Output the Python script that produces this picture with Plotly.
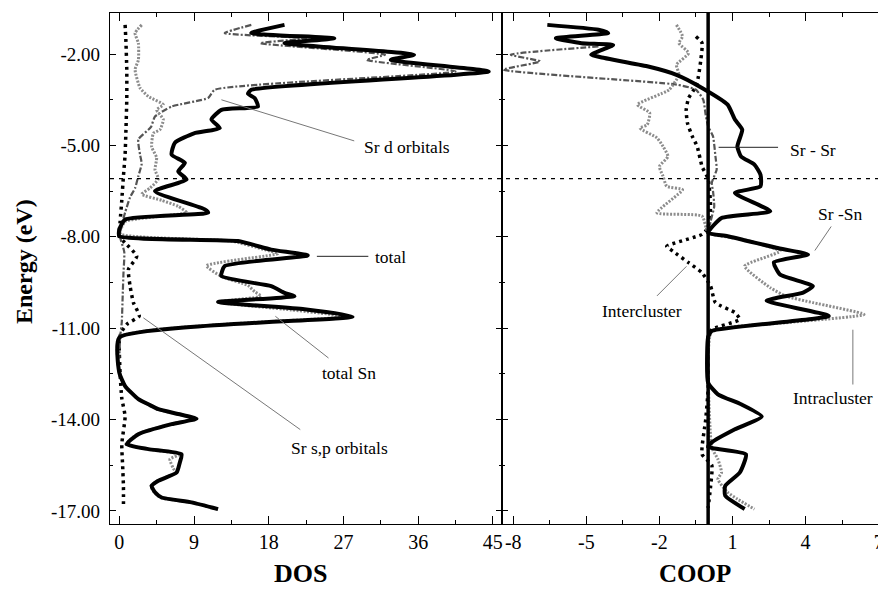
import plotly.graph_objects as go

# ---------------- DOS panel (energy in eV) ----------------
total_E = [-1.04, -1.31, -1.48, -1.64, -2.02, -2.19, -2.57, -3.17, -3.30, -3.44, -3.72, -3.83,
           -4.15, -4.43, -4.60, -4.91, -5.30, -5.57, -5.85, -6.12, -6.50, -7.10, -7.21, -7.43,
           -7.76, -7.98, -8.14, -8.42, -8.61, -8.96, -9.29, -9.62, -9.84, -9.95, -10.14, -10.38,
           -10.62, -11.31, -12.46, -12.90, -13.33, -13.50, -13.66, -13.82, -13.97, -14.15, -14.48,
           -14.81, -14.97, -15.14, -15.40, -15.74, -16.01, -16.18, -16.39, -16.56, -16.72, -16.94]
total_dos = [19.9, 15.9, 25.9, 19.9, 35.5, 32.7, 44.5, 15.9, 15.5, 16.3, 16.7, 12.3,
             11.1, 12.1, 9.0, 6.7, 6.3, 7.9, 7.1, 8.1, 4.3, 10.3, 10.7, 0.7,
             0.0, 0.0, 14.3, 18.3, 22.7, 12.7, 12.3, 18.3, 19.9, 21.1, 11.9, 22.3,
             28.1, 0.0, 0.0, 0.7, 2.3, 3.5, 4.7, 7.1, 9.3, 6.3, 2.3,
             0.9, 3.5, 7.5, 7.3, 6.9, 4.7, 3.9, 4.3, 5.1, 8.7, 11.9]

sn_E = [-1.04, -1.31, -1.64, -2.19, -2.51, -3.11, -3.39, -3.66, -3.83, -4.15, -4.48, -4.60,
        -5.05, -5.40, -5.80, -6.10, -6.40, -6.60, -6.80, -7.00, -7.20, -7.50, -7.90, -8.14,
        -8.42, -8.55, -8.95, -9.30, -9.60, -9.80, -9.95, -10.14, -10.40, -10.62, -11.30, -12.46,
        -12.90, -13.33, -13.50, -13.66, -13.82, -13.97, -14.15, -14.48, -14.81, -14.97, -15.14,
        -15.30, -15.60, -15.74, -16.01, -16.18, -16.39, -16.56, -16.72, -16.94]
sn_dos = [2.7, 1.9, 2.3, 2.3, 1.9, 2.5, 3.5, 5.3, 4.5, 5.3, 4.9, 4.1,
          3.9, 4.5, 4.3, 4.7, 3.7, 2.7, 5.1, 7.1, 8.1, 0.7, 0.1, 13.5,
          17.5, 19.1, 10.5, 12.3, 15.5, 16.3, 17.1, 11.9, 20.7, 27.1, 0.0, 0.0,
          0.7, 2.3, 3.5, 4.6, 7.0, 9.2, 6.2, 2.2, 0.8, 3.4, 7.3,
          6.1, 6.5, 6.8, 4.6, 3.8, 4.2, 5.0, 8.6, 11.8]

srsp_E = [-1.04, -1.6, -2.5, -3.5, -4.5, -5.3, -6.0, -6.8, -7.5, -8.0, -8.2, -8.64, -9.07,
          -9.62, -10.16, -10.6, -10.85, -11.1, -11.35, -12.5, -13.3, -13.9, -14.8, -15.5,
          -16.2, -16.9]
srsp_dos = [0.7, 0.8, 0.9, 0.9, 0.8, 0.7, 0.5, 0.3, 0.1, 0.0, 0.7, 2.1, 1.1,
            1.3, 1.7, 2.4, 1.0, 0.3, 0.0, 0.1, 0.3, 0.7, 0.3, 0.4,
            0.5, 0.5]

srd_E = [-1.04, -1.31, -1.48, -1.64, -2.02, -2.19, -2.57, -3.17, -3.44, -3.72, -4.05, -4.40,
         -4.80, -5.30, -5.60, -6.00, -6.40, -6.70, -7.20, -7.60, -8.00, -8.50, -9.20, -10.00,
         -10.80, -11.30, -12.00]
srd_dos = [15.9, 12.7, 22.5, 17.0, 32.0, 29.8, 40.5, 11.5, 10.7, 6.3, 4.3, 3.8,
           2.3, 2.5, 2.7, 2.3, 1.9, 1.3, 0.7, 0.3, 0.1, 0.6, 0.5, 0.4,
           0.3, 0.1, 0.0]

# ---------------- COOP panel ----------------
srsn_E = [-1.04, -1.20, -1.31, -1.48, -1.64, -1.70, -2.02, -2.13, -2.40, -2.68, -3.11, -3.66,
          -4.15, -4.48, -5.03, -5.36, -5.63, -5.96, -6.34, -6.56, -7.16, -7.38, -7.87, -7.98,
          -8.36, -8.58, -8.84, -9.24, -9.62, -9.83, -10.10, -10.60, -11.09, -11.30, -12.79, -13.17,
          -13.50, -13.90, -14.32, -14.75, -14.90, -15.14, -15.74, -16.18, -16.50, -16.94]
srsn_coop = [-6.6, -4.5, -4.1, -6.25, -5.2, -3.9, -4.8, -4.25, -2.5, -1.3, -0.25, 0.8,
             1.1, 1.4, 1.2, 1.35, 1.9, 2.15, 2.15, 1.1, 2.55, 0.55, 0.0, 0.8,
             2.8, 4.1, 2.7, 2.95, 4.3, 3.9, 2.4, 4.95, 0.15, 0.0, 0.0, 0.4,
             1.35, 2.2, 1.1, 0.15, 0.0, 1.55, 1.3, 0.7, 0.7, 1.5]

intra_E = [-1.04, -1.42, -1.64, -1.97, -2.35, -2.68, -3.17, -3.66, -3.93, -4.32, -4.43, -4.75,
           -5.03, -5.36, -5.69, -6.01, -6.34, -6.45, -7.21, -7.32, -7.86, -8.10, -8.47, -8.96,
           -9.67, -9.95, -10.16, -10.55, -10.82, -11.10, -12.0, -14.92, -15.30, -15.74, -15.96,
           -16.39, -16.61, -16.94]
intra_coop = [-1.3, -1.05, -1.2, -0.8, -1.3, -1.2, -1.6, -2.9, -2.4, -2.5, -2.8, -2.1,
              -1.85, -1.65, -2.0, -1.85, -1.7, -1.05, -2.1, -0.25, 0.0, 1.5, 2.95, 1.5,
              2.55, 3.2, 4.3, 6.4, 3.2, 0.15, 0.0, 0.15, 0.4, 0.55, 0.4,
              0.8, 1.2, 1.9]

inter_E = [-1.42, -1.64, -2.19, -2.74, -3.06, -3.44, -3.83, -4.26, -4.70, -5.03, -5.69, -6.10,
           -7.0, -7.70, -7.92, -8.31, -8.47, -8.85, -9.18, -9.62, -10.16, -10.49, -10.71, -11.04,
           -11.3, -13.0, -14.0, -15.14, -15.5, -16.2, -16.9]
inter_coop = [-0.5, -0.25, -0.3, -0.4, -0.5, -0.8, -0.9, -0.85, -0.65, -0.45, -0.25, 0.0,
              0.1, 0.0, -0.25, -1.7, -1.45, -0.8, -0.25, 0.1, 0.3, 1.1, 1.3, 0.15,
              0.0, 0.0, -0.1, -0.25, 0.15, 0.1, 0.0]

srsr_E = [-1.75, -2.02, -2.24, -2.51, -3.00, -3.17, -3.5, -4.0, -4.37, -4.70, -5.36, -5.79,
          -6.23, -6.5, -7.0, -7.5, -8.0]
srsr_coop = [-4.5, -8.1, -6.9, -8.4, -1.3, -0.5, -0.2, -0.1, 0.0, 0.2, 0.3, 0.35,
             0.15, 0.2, 0.25, 0.1, 0.0]

fermi_E = -6.09

dos_ticks = [0, 9, 18, 27, 36, 45]
dos_ticktext = ["0", "9", "18", "27", "36", "45"]
coop_ticks = [-8, -5, -2, 1, 4, 7]
coop_ticktext = ["-8", "-5", "-2", "1", "4", "7"]
energy_ticks = [-2, -5, -8, -11, -14, -17]
energy_ticktext = ["-2.00", "-5.00", "-8.00", "-11.00", "-14.00", "-17.00"]

SERIF = "Liberation Serif"

fig = go.Figure()


def add(x, y, xa, ya, color, width, dash):
    fig.add_trace(go.Scatter(x=x, y=y, mode="lines", xaxis=xa, yaxis=ya,
                             line=dict(color=color, width=width, dash=dash,
                                       shape="spline", smoothing=0.5),
                             hoverinfo="skip", showlegend=False))


# DOS panel
add(srsp_dos, srsp_E, "x", "y", "black", 3.5, "3px,4px")
add(srd_dos, srd_E, "x", "y", "#555555", 2.2, "6px,2px,2px,2px")
add(sn_dos, sn_E, "x", "y", "#8c8c8c", 3, "2px,1.5px")
add(total_dos, total_E, "x", "y", "black", 4, "solid")

# COOP panel
add(inter_coop, inter_E, "x2", "y2", "black", 3.5, "3px,4px")
add(srsr_coop, srsr_E, "x2", "y2", "#555555", 2.2, "6px,2px,2px,2px")
add(intra_coop, intra_E, "x2", "y2", "#8c8c8c", 3, "2px,1.5px")
add(srsn_coop, srsn_E, "x2", "y2", "black", 4, "solid")

yr = [-17.43, -0.65]
split = (502 - 110) / 776

common_y = dict(range=yr, showline=True, linecolor="black", linewidth=1.2, mirror="ticks",
                ticks="inside", ticklen=6, tickwidth=1.2, tickcolor="black",
                showgrid=False, zeroline=False, automargin=False,
                minor=dict(ticks="inside", ticklen=3, tickcolor="black", tick0=-2, dtick=1.5))

common_x = dict(showline=True, linecolor="black", linewidth=1.2, mirror="ticks",
                ticks="inside", ticklen=8, tickwidth=1.2, tickcolor="black",
                tickfont=dict(family=SERIF, size=20, color="black"), ticklabelstandoff=0,
                showgrid=False, zeroline=False, automargin=False, tickmode="array",
                ticklabeloverflow="allow")

# the page body adds an 8px offset, so the figure is drawn 8px smaller/shifted
fig.update_layout(
    template="none",
    width=878, height=583,
    margin=dict(l=102, r=0, t=5, b=67),
    paper_bgcolor="white", plot_bgcolor="white",
    showlegend=False, hovermode=False,
    font=dict(family=SERIF, color="black"),
    xaxis=dict(domain=[0, split], range=[-1.12, 46.1], tickvals=dos_ticks,
               ticktext=dos_ticktext,
               minor=dict(ticks="inside", ticklen=4, tickcolor="black", tick0=0, dtick=4.5),
               **common_x),
    xaxis2=dict(domain=[split, 1], range=[-8.46, 7.3], tickvals=coop_ticks,
                ticktext=coop_ticktext,
                minor=dict(ticks="inside", ticklen=4, tickcolor="black", tick0=-8, dtick=1.5),
                **common_x),
    yaxis=dict(anchor="x", tickmode="array", tickvals=energy_ticks, ticktext=energy_ticktext,
               tickfont=dict(family=SERIF, size=19, color="black"), ticklabelstandoff=5,
               **common_y),
    yaxis2=dict(anchor="x2", tickmode="array", tickvals=energy_ticks, showticklabels=False,
                **common_y),
)

# Fermi level (dashed) across both panels and zero line in COOP
fig.add_shape(type="line", xref="paper", yref="y", x0=0, x1=1, y0=fermi_E, y1=fermi_E,
              line=dict(color="black", width=1.2, dash="4px,5px"))
fig.add_shape(type="line", xref="x2", yref="paper", x0=0, x1=0, y0=0, y1=1,
              line=dict(color="black", width=3.5))

# labels with pointer lines
labels = [
    ("x", "y", "Sr d orbitals", 29.2, -5.04, (12.3, -3.50, 28.3, -4.85), "#777777"),
    ("x", "y", "total", 30.6, -8.65, (23.8, -8.64, 30.0, -8.64), "#222222"),
    ("x", "y", "total Sn", 24.2, -12.46, (18.8, -10.61, 25.2, -11.98), "#777777"),
    ("x", "y", "Sr s,p orbitals", 20.5, -14.95, (2.9, -10.66, 21.8, -14.33), "#777777"),
    ("x2", "y2", "Sr - Sr", 3.27, -5.14, (0.43, -5.06, 2.87, -5.06), "#222222"),
    ("x2", "y2", "Sr -Sn", 4.42, -7.24, (5.05, -7.66, 4.38, -8.45), "#777777"),
    ("x2", "y2", "Intercluster", -4.44, -10.45, (-0.89, -8.97, -2.1, -9.94), "#777777"),
    ("x2", "y2", "Intracluster", 3.42, -13.29, (5.94, -11.05, 5.94, -12.85), "#777777"),
]
for xr, yrf, text, lx, ly, (x0, y0, x1, y1), col in labels:
    fig.add_annotation(xref=xr, yref=yrf, x=lx, y=ly, text=text, showarrow=False,
                       xanchor="left", yanchor="middle",
                       font=dict(family=SERIF, size=17.5, color="black"))
    fig.add_shape(type="line", xref=xr, yref=yrf, x0=x0, y0=y0, x1=x1, y1=y1,
                  line=dict(color=col, width=1))

# axis titles
fig.add_annotation(xref="paper", yref="paper", x=(300 - 110) / 776, y=(524 - 574) / 511,
                   text="<b>DOS</b>", showarrow=False, xanchor="center", yanchor="middle",
                   font=dict(family=SERIF, size=26, color="black"))
fig.add_annotation(xref="paper", yref="paper", x=(695 - 110) / 776, y=(524 - 574) / 511,
                   text="<b>COOP</b>", showarrow=False, xanchor="center", yanchor="middle",
                   font=dict(family=SERIF, size=25, color="black"))
fig.add_annotation(xref="paper", yref="paper", x=(24 - 110) / 776, y=(524 - 262) / 511,
                   text="<b>Energy (eV)</b>", showarrow=False, textangle=-90,
                   xanchor="center", yanchor="middle",
                   font=dict(family=SERIF, size=24, color="black"))

fig.write_html("out.html")
